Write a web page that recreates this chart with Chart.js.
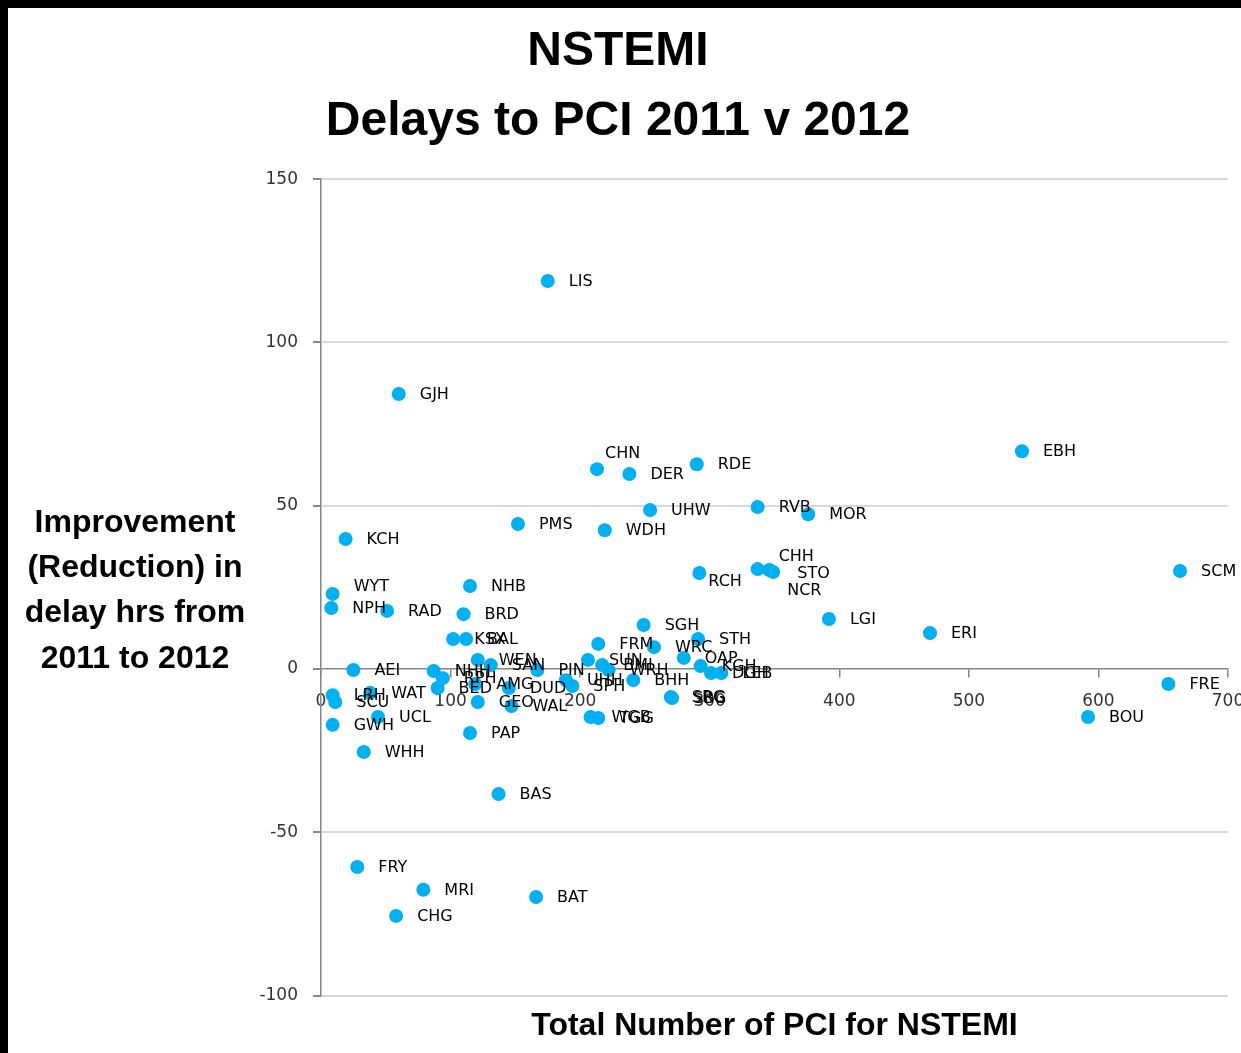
<!DOCTYPE html>
<html>
<head>
<meta charset="utf-8">
<script src="https://cdn.jsdelivr.net/npm/chart.js@4.4.0/dist/chart.umd.min.js"></script>
<style>
  html, body { margin: 0; padding: 0; background: #000; }
  #grafico { display: block; margin: 8px 0 0 8px; background: #fff; }
</style>
</head>
<body>
<canvas id="grafico" width="1233" height="1045"></canvas>
<script>
// Hospitais (rótulos dos pontos)
const hospitais = [
  'LIS', 'GJH', 'CHN', 'DER', 'RDE', 'EBH', 'RVB', 'MOR', 'UHW', 'PMS',
  'WDH', 'KCH', 'CHH', 'STO', 'NCR', 'SCM', 'RCH', 'WYT', 'NPH', 'RAD',
  'NHB', 'BRD', 'SGH', 'LGI', 'ERI', 'KSX', 'BAL', 'FRM', 'WRC', 'STH',
  'OAP', 'KGH', 'DGH', 'LEB', 'SUN', 'BMI', 'WRH', 'BHH', 'UHH', 'SPH',
  'SRG', 'SBG', 'WGB', 'TGG', 'PIN', 'WEN', 'SAN', 'NHH', 'RPH', 'BED',
  'AMG', 'DUD', 'GEO', 'WAL', 'PAP', 'AEI', 'LRH', 'SCU', 'WAT', 'UCL',
  'GWH', 'WHH', 'BAS', 'FRY', 'MRI', 'CHG', 'BAT', 'FRE', 'BOU'
];

// Total de PCI para NSTEMI (eixo x)
const totalPci = [
  175, 60, 213, 238, 290, 541, 337, 376, 254, 152,
  219, 19, 337, 346, 349, 663, 292, 9, 8, 51,
  115, 110, 249, 392, 470, 102, 112, 214, 257, 291,
  280, 293, 301, 309, 206, 217, 222, 241, 189, 194,
  270, 271, 208, 214, 167, 121, 131, 87, 94, 90,
  119, 145, 121, 147, 115, 25, 9, 11, 38, 44,
  9, 33, 137, 28, 79, 58, 166, 654, 592
];

// Melhoria (redução) no atraso em horas, 2011 para 2012 (eixo y)
const melhoria = [
  118.8, 84.2, 61.2, 59.7, 62.7, 66.7, 49.6, 47.4, 48.7, 44.4,
  42.5, 39.8, 30.6, 30.3, 29.7, 30.0, 29.4, 23.0, 18.7, 17.8,
  25.4, 16.8, 13.5, 15.3, 11.0, 9.2, 9.2, 7.7, 6.7, 9.2,
  3.4, 0.9, -1.2, -1.2, 2.8, 1.2, -0.3, -3.4, -3.4, -5.2,
  -8.6, -8.9, -14.7, -15.0, -0.3, 2.8, 1.2, -0.6, -2.8, -5.8,
  -4.6, -5.8, -10.1, -11.3, -19.6, -0.3, -8.0, -10.1, -7.3, -14.7,
  -17.1, -25.4, -38.3, -60.6, -67.6, -75.6, -69.8, -4.6, -14.7
];

const ticksY = [-100, -50, 0, 50, 100, 150];
const ticksX = [0, 100, 200, 300, 400, 500, 600, 700];

const tituloGrafico = ['NSTEMI', 'Delays to PCI 2011 v 2012'];
const tituloEixoX = 'Total Number of PCI for NSTEMI';
const tituloEixoY = ['Improvement', '(Reduction) in', 'delay hrs from', '2011 to 2012'];

const fonteTitulo = '"Liberation Sans", Arial, sans-serif';
const fonteTexto = '"DejaVu Sans", Verdana, sans-serif';

// Rótulos que foram arrastados à mão no original (deslocamento em px)
const ajusteRotulo = {
  CHN: [-13, -16], CHH: [0, -13], STO: [7, 3], NCR: [-7, 18],
  RCH: [-12, 8], WYT: [0, -8]
};

// Rótulos ao lado de cada ponto
const rotulosPontos = {
  id: 'rotulosPontos',
  afterDatasetsDraw(chart) {
    const ctx = chart.ctx;
    const meta = chart.getDatasetMeta(0);
    ctx.save();
    ctx.font = '16px ' + fonteTexto;
    ctx.fillStyle = '#000';
    ctx.textBaseline = 'middle';
    ctx.textAlign = 'left';
    meta.data.forEach((pt, i) => {
      const aj = ajusteRotulo[hospitais[i]] || [0, 0];
      ctx.fillText(hospitais[i], pt.x + 21 + aj[0], pt.y + 1 + aj[1]);
    });
    ctx.restore();
  }
};

// Título do eixo y na horizontal, à esquerda
const tituloY = {
  id: 'tituloY',
  afterDraw(chart) {
    const ctx = chart.ctx;
    ctx.save();
    ctx.font = 'bold 32px ' + fonteTitulo;
    ctx.fillStyle = '#000';
    ctx.textAlign = 'center';
    ctx.textBaseline = 'middle';
    const centro = 583;
    tituloEixoY.forEach((linha, i) => {
      ctx.fillText(linha, 127, centro + (i - 1.5) * 45.3);
    });
    ctx.restore();
  }
};

const ctx = document.getElementById('grafico').getContext('2d');
new Chart(ctx, {
  type: 'scatter',
  data: {
    datasets: [{
      label: 'NSTEMI',
      data: totalPci.map((x, i) => ({ x: x, y: melhoria[i] })),
      backgroundColor: '#00b0f0',
      borderWidth: 0,
      pointRadius: 7,
      pointHoverRadius: 7
    }]
  },
  options: {
    responsive: false,
    animation: false,
    devicePixelRatio: 1,
    layout: { padding: { top: 0, right: 13, bottom: 0, left: 0 } },
    scales: {
      x: {
        type: 'linear',
        position: { y: 0 },
        min: 0,
        max: 700,
        afterBuildTicks: s => { s.ticks = ticksX.map(v => ({ value: v })); },
        afterFit: s => { s.paddingLeft = 0; s.paddingRight = 0; },
        grid: { drawOnChartArea: false, tickLength: 8, tickColor: '#868686', lineWidth: 1.5 },
        border: { color: '#868686', width: 1.5 },
        ticks: { color: '#333', padding: 14, maxRotation: 0, font: { family: fonteTexto, size: 17 } }
      },
      y: {
        type: 'linear',
        position: 'left',
        min: -100,
        max: 150,
        afterBuildTicks: s => { s.ticks = ticksY.map(v => ({ value: v })); },
        afterFit: s => { s.width = 313; },
        grid: {
          color: c => (c.tick && c.tick.value === 0) ? 'rgba(0,0,0,0)' : '#d9d9d9',
          lineWidth: 2,
          tickLength: 8,
          tickColor: '#868686'
        },
        border: { color: '#868686', width: 1.5 },
        ticks: { color: '#333', padding: 15, font: { family: fonteTexto, size: 17 } }
      }
    },
    plugins: {
      legend: { display: false },
      tooltip: { enabled: false },
      title: {
        display: true,
        text: tituloGrafico,
        color: '#000',
        font: { family: fonteTitulo, size: 48, weight: 'bold', lineHeight: 1.46 },
        padding: { top: 9, bottom: 22 }
      },
      subtitle: {
        display: true,
        position: 'bottom',
        fullSize: false,
        text: tituloEixoX,
        color: '#000',
        font: { family: fonteTitulo, size: 32, weight: 'bold', lineHeight: 1.2 },
        padding: { top: 11, bottom: 8 }
      }
    }
  },
  plugins: [rotulosPontos, tituloY]
});
</script>
</body>
</html>
